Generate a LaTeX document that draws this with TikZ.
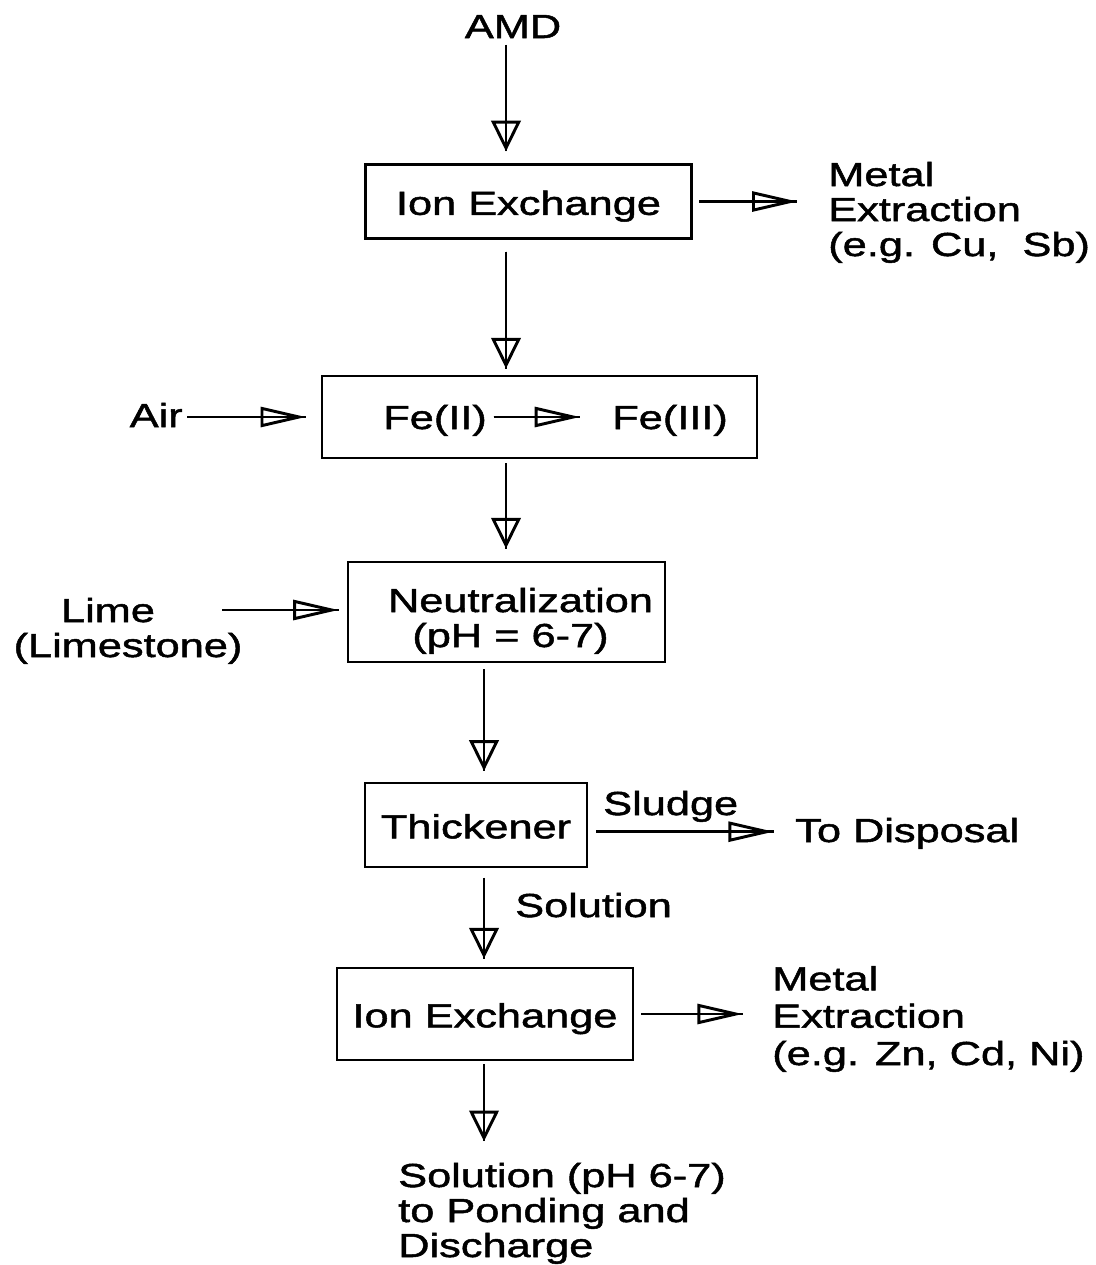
\documentclass[tikz,border=0pt]{standalone}
\usepackage{fontspec}
\setmainfont{Liberation Sans}[FakeStretch=1.3,FakeBold=1.5]
\usetikzlibrary{arrows.meta}
\tikzset{
  lbl/.style={font=\fontsize{25}{26.25}\selectfont, inner sep=0pt, align=left},
  box/.style={draw, line width=2.2pt, inner sep=0pt, font=\fontsize{25}{26.25}\selectfont, align=center},
  flowline/.style={line width=2.2pt},
  vtip/.style={-{Triangle[open,length=23pt,width=22pt,line width=2.2pt]}},
  htip/.style={-{Triangle[open,length=34pt,width=15pt,line width=2.2pt]}},
}
\newcommand\flowarrow[3]{\draw[flowline,#1,-] #2 -- #3; \draw[flowline,#1] #2 -- #3;}
\begin{document}
\begin{tikzpicture}[x=0.75pt,y=-0.75pt]
\useasboundingbox (0,0) rectangle (1096,1265);
\coordinate (L1) at (506,0);
\coordinate (L2) at (484,0);
% nodes
\node[lbl, anchor=base] (amd) at (513,38) {AMD};
\node[box, minimum width=245pt, minimum height=55pt, text height=20pt, text depth=0pt] (ix1) at (528.5,201.5) {Ion Exchange};
\node[lbl, anchor=base west] (met1) at (828,256) {Metal\\Extraction\\(e.g. Cu,\ \ Sb)};
\node[box, minimum width=326.25pt, minimum height=61.5pt] (ox) at (539.5,417) {};
\node[lbl, anchor=base west] (fe2) at (383,429) {Fe(II)};
\node[lbl, anchor=base west] (fe3) at (612,429) {Fe(III)};
\node[lbl, anchor=base east] (air) at (183,427) {Air};
\node[box, minimum width=237.75pt, minimum height=75pt, text height=52.5pt, text depth=0pt] (neut) at (506.5,612) {\hspace*{21pt}Neutralization\\\hspace*{6pt}(pH = 6-7)};
\node[lbl, anchor=base, align=center] (lime) at (128,657) {\hspace*{-30pt}Lime\\(Limestone)};
\coordinate (limeout) at (222,610);
\node[box, minimum width=166.5pt, minimum height=63pt, text height=20pt, text depth=0pt] (thk) at (476,825) {Thickener};
\node[lbl, anchor=base west] (sludge) at (603,815) {Sludge};
\node[lbl, anchor=base west] (disp) at (795,842) {To Disposal};
\node[lbl, anchor=base west] (soln) at (515,917) {Solution};
\node[box, minimum width=222pt, minimum height=69pt, text height=20pt, text depth=0pt] (ix2) at (485,1014) {Ion Exchange};
\node[lbl, anchor=base west, font=\fontsize{25}{28}\selectfont] (met2) at (772,1065) {Metal\\Extraction\\(e.g. Zn, Cd, Ni)};
\node[lbl, anchor=base west] (out) at (398,1257) {Solution (pH 6-7)\\to Ponding and\\Discharge};
% connectors
\flowarrow{vtip, shorten <=5pt, shorten >=9pt}{(amd.south -| L1)}{(ix1.north -| L1)}
\flowarrow{htip, shorten <=4.5pt, shorten >=23pt}{(ix1.east)}{(ix1.east -| met1.west)}
\flowarrow{vtip, shorten <=9pt, shorten >=4.5pt}{(ix1.south -| L1)}{(ox.north -| L1)}
\flowarrow{htip, shorten <=3pt, shorten >=11pt}{(air.east |- ox.center)}{(ox.west)}
\flowarrow{htip, shorten <=5pt, shorten >=24pt}{(fe2.east |- ox.center)}{(fe3.west |- ox.center)}
\flowarrow{vtip, shorten <=3pt, shorten >=9pt}{(ox.south -| L1)}{(neut.north -| L1)}
\flowarrow{htip, shorten >=6pt}{(limeout)}{(limeout -| neut.west)}
\flowarrow{vtip, shorten <=4.5pt, shorten >=8pt}{(neut.south -| L2)}{(thk.north -| L2)}
\flowarrow{htip, shorten <=6pt, shorten >=16pt}{([yshift=-5pt]thk.east)}{([yshift=-5pt]thk.east -| disp.west)}
\flowarrow{vtip, shorten <=7pt, shorten >=6pt}{(thk.south -| L2)}{(ix2.north -| L2)}
\flowarrow{htip, shorten <=5pt, shorten >=22pt}{(ix2.east)}{(ix2.east -| met2.west)}
\flowarrow{vtip, shorten <=2pt, shorten >=16pt}{(ix2.south -| L2)}{(out.north -| L2)}
\end{tikzpicture}
\end{document}
